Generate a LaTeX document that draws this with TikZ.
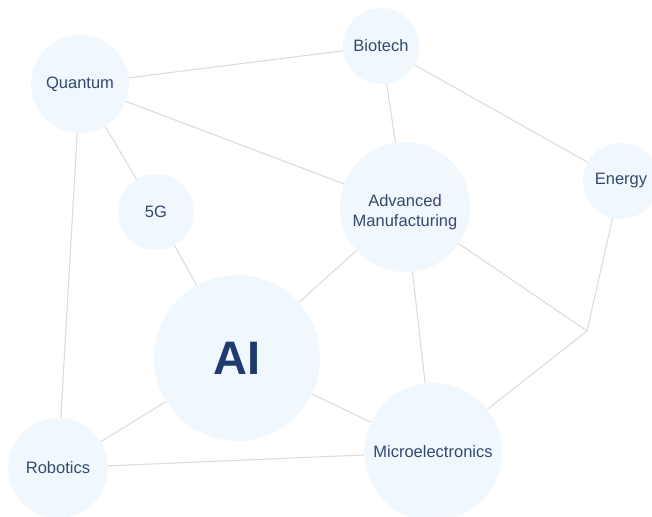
\documentclass[tikz,border=0pt]{standalone}
\usepackage{fontspec}
\setmainfont{Liberation Sans}
\usepackage{tikz}
\usetikzlibrary{positioning}
\usepackage{xcolor}
\definecolor{bubble}{HTML}{F0F7FD}
\definecolor{labelblue}{HTML}{34496F}
\definecolor{aiblue}{HTML}{1F3A6E}
\definecolor{linkgray}{HTML}{DCDCDC}

\begin{document}
\begin{tikzpicture}[x=1pt, y=-1pt,
            topic/.style={circle, fill=bubble, draw=none, inner sep=0pt,
            text=labelblue, align=center,
            font=\fontsize{16.5}{20}\selectfont},
            link/.style={draw=linkgray, line width=1.1pt}]
          \useasboundingbox (0,0) rectangle (652,516);
          \node[topic, minimum size=98pt] (quantum) at (80,84) {Quantum};
          \node[topic, minimum size=76pt] (biotech) at (381,46) {Biotech};
          \node[topic, minimum size=76pt] (fiveg) at (156,212) {5G};
          \node[topic, minimum size=130pt,
                label={[text=labelblue, align=center, font=\fontsize{16.5}{20}\selectfont,
                yshift=-5pt]center:Advanced\\Manufacturing}] (advmfg) at (405,207) {};
          \node[topic, minimum size=76pt] (energy) at (621,181) {Energy};
          \node[topic, minimum size=166pt, text=aiblue,
                font=\fontsize{47}{50}\selectfont\bfseries] (ai) at (237,358) {AI};
          \node[topic, minimum size=100pt] (robotics) at (58,468) {Robotics};
          \node[topic, minimum size=138pt] (micro) at (433,452) {Microelectronics};
          \coordinate (split) at (587,331);
          \path[link] (quantum) -- (biotech)
                (quantum) -- (fiveg)
                (quantum) -- (advmfg)
                (quantum) -- (robotics)
                (biotech) -- (advmfg)
                (biotech) -- (energy)
                (fiveg) -- (ai)
                (advmfg) -- (ai)
                (advmfg) -- (micro)
                (advmfg) -- (split)
                (energy) -- (split)
                (split) -- (micro)
                (ai) -- (robotics)
                (ai) -- (micro)
                (robotics) -- (micro);
        \end{tikzpicture}
\end{document}
